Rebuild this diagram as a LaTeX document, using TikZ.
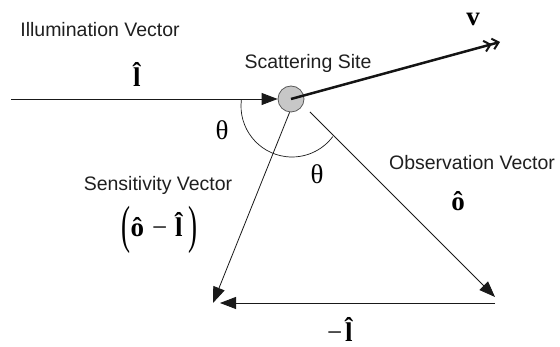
\documentclass[tikz,border=0pt]{standalone}
\usepackage{fontspec}
\usepackage{graphicx}
\setmainfont{Liberation Serif}
\newfontfamily\arial{Liberation Sans}
\usetikzlibrary{arrows.meta}
\newcommand{\bigparen}[1]{\raisebox{-6pt}{\scalebox{1}[1.94]{#1}}}
\newcommand{\lhat}{\textbf{l^^^^0302}}
\newcommand{\ohat}{\textbf{ô}}
\tikzset{
  lbl/.style={font=\arial\fontsize{19.5}{22}\selectfont, text=black!88, inner sep=0pt},
  sym/.style={font=\fontsize{27}{30}\selectfont, inner sep=0pt},
  vec/.style={draw=black!90, line width=0.8pt, -{Triangle[length=16pt,width=12pt]}},
  thin/.style={draw=black!90, line width=0.7pt}
}
\begin{document}
\begin{tikzpicture}[x=1pt,y=1pt]
\useasboundingbox (0,0) rectangle (560,347);
% scattering site
\node[circle, minimum size=26pt, inner sep=0pt, fill=black!22, draw=black!65, line width=0.8pt] (S) at (291,248) {};
% coordinates
\coordinate (ilstart) at (11,248);
\coordinate (vend) at (500,305);
\coordinate (sensend) at (213,44);
\coordinate (obsstart) at (310,235);
\coordinate (obsend) at (495,50);
\coordinate (bR) at (495,44);
\coordinate (bL) at (220,44);
% angle arc
\draw[thin] ([shift={(173:51pt)}]292,241) arc[start angle=173, end angle=323, radius=51pt];
% arrows
\draw[vec] (ilstart) -- (S.west);
\draw[vec] (S.-96) -- (sensend);
\draw[vec] (obsstart) -- (obsend);
\draw[vec] (bR) -- (bL);
\draw[line width=2.5pt, black!92, -{Straight Barb[length=6pt,width=11pt,line width=2pt] Straight Barb[length=6pt,width=11pt,line width=2pt]}] (S.center) -- (vend);
% texts
\node[lbl] (tIll) at (100,317) {Illumination Vector};
\node[lbl] (tScat) at (308,284) {Scattering Site};
\node[lbl] (tObs) at (472,184) {Observation Vector};
\node[lbl] (tSens) at (158,162) {Sensitivity Vector};
\node[sym, anchor=base] (iHat) at (139,260) {\lhat};
\node[sym, font=\bfseries\fontsize{27}{30}\selectfont] (v) at (473,328) {v};
\node[sym] (th1) at (222,217) {θ};
\node[sym] (th2) at (317,173) {θ};
\node[sym, anchor=base] (oHat) at (458,136) {\ohat};
\node[sym, anchor=base] (diff) at (159,110) {\bigparen{(}\kern0.5pt\ohat\kern8pt−\kern8pt\lhat\kern1pt\bigparen{)}};
\node[sym, anchor=base] (negI) at (342,5) {−\kern3pt\lhat};
\end{tikzpicture}
\end{document}
